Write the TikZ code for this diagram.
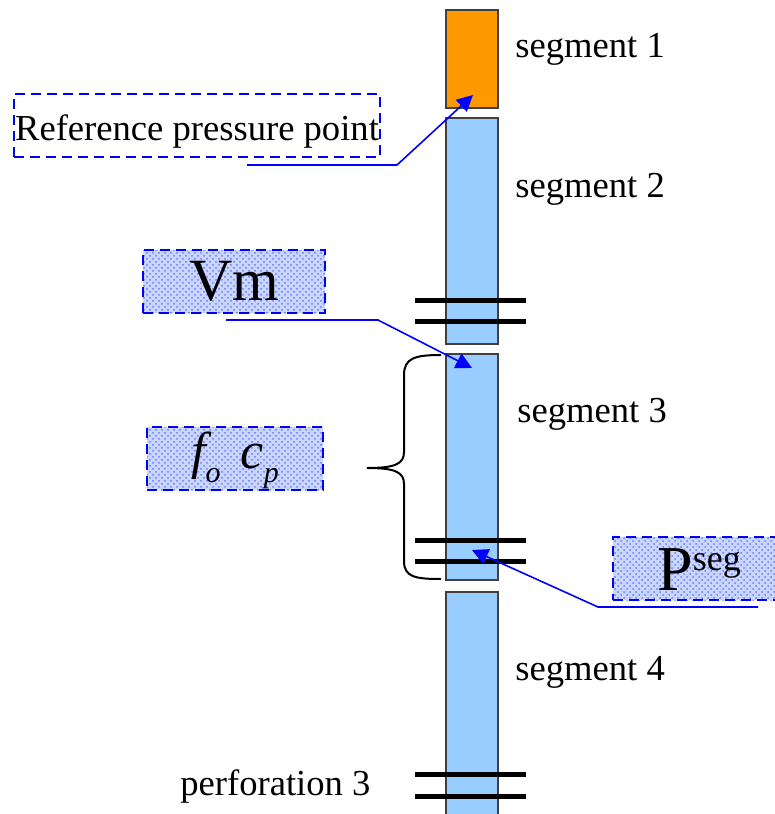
\documentclass[tikz,border=0pt]{standalone}
\usepackage{fontspec}
\setmainfont{Liberation Serif}
\usetikzlibrary{arrows.meta,patterns,calc}
\definecolor{segorange}{RGB}{255,153,0}
\definecolor{segblue}{RGB}{153,204,255}
\definecolor{segedge}{RGB}{64,64,64}
\definecolor{tagblue}{RGB}{200,215,255}
\tikzset{
  segbox/.style={draw=segedge, line width=1pt, minimum width=26pt, inner sep=0pt},
  seglabel/.style={anchor=base west, inner sep=0pt, font=\fontsize{18.3}{20}\selectfont},
  perf/.style={line width=2.5pt},
  tagbox/.style={draw=blue, line width=1pt, dash pattern=on 5pt off 3pt, inner sep=0pt, minimum height=31.5pt},
  dotfill/.style={preaction={fill=tagblue}, pattern=crosshatch dots, pattern color=blue!55},
  pointer/.style={blue, line width=0.8pt, -{Triangle[length=8pt,width=8pt]}}
}
\begin{document}
\begin{tikzpicture}[x=0.5pt, y=-0.5pt]
  \clip (0,0) rectangle (775,814);

  % Draw segments
  \node[segbox, fill=segorange, minimum height=49pt] (s1) at (472,59) {};
  \node[segbox, fill=segblue, minimum height=113pt] (s2) at (472,231) {};
  \node[segbox, fill=segblue, minimum height=113pt] (s3) at (472,467) {};
  \fill[segblue] (446,592) rectangle (498,820);
  \draw[segedge, line width=1pt] (446,820) -- (446,592) -- (498,592) -- (498,820);

  % Perforations
  \foreach \y in {300,321,540,561,774,796}
    \draw[perf] (415,\y) -- (526,\y);

  % Segment labels
  \node[seglabel] (l1) at (515,57) {segment 1};
  \node[seglabel] (l2) at (515,197) {segment 2};
  \node[seglabel] (l3) at (517,422) {segment 3};
  \node[seglabel] (l4) at (515,680) {segment 4};
  \node[seglabel] (perf3) at (180,795) {perforation 3};

  % Label boxes
  \node[tagbox, minimum width=183pt, text height=15pt, text depth=0pt,
        font=\fontsize{18.3}{20}\selectfont] (refbox) at (197,125) {Reference pressure point};
  \node[tagbox, dotfill, minimum width=91pt, font=\fontsize{30}{30}\selectfont] (vm) at (234,281.5) {Vm};
  \node[tagbox, dotfill, minimum width=88pt, text height=9.5pt, text depth=0pt,
        font=\fontsize{26}{26}\selectfont\itshape] (fc) at (235,458.5)
        {f\raisebox{-7pt}{\fontsize{15}{15}\selectfont o}\hspace{10pt}c\raisebox{-7pt}{\fontsize{15}{15}\selectfont p}};
  \node[tagbox, dotfill, minimum width=86pt, text height=21.5pt, text depth=0pt] (pseg) at (699,568.5)
        {\fontsize{32}{32}\selectfont P\raisebox{10pt}{\fontsize{18}{18}\selectfont seg}};

  % Pointers
  \coordinate (refA) at (247,165);
  \coordinate (refB) at (397,165);
  \draw[pointer] (refA) -- (refB) -- ($(s1.south)+(1,-14)$);
  \coordinate (vmA) at (226,320);
  \coordinate (vmB) at (378,320);
  \draw[pointer] (vmA) -- (vmB) -- ($(s3.north)+(0,15)$);
  \coordinate (psA) at (758,607);
  \coordinate (psB) at (598,607);
  \draw[pointer] (psA) -- (psB) -- ($(s3.south)+(0,-31)$);

  % Brace over segment 3
  \draw[line width=1pt] (441,355) .. controls (415,355) and (404,358) .. (404,375) -- (404,452)
    .. controls (404,464) and (395,468) .. (367,468)
    .. controls (395,468) and (404,472) .. (404,484) -- (404,561)
    .. controls (404,577) and (415,579) .. (441,579);
\end{tikzpicture}
\end{document}
